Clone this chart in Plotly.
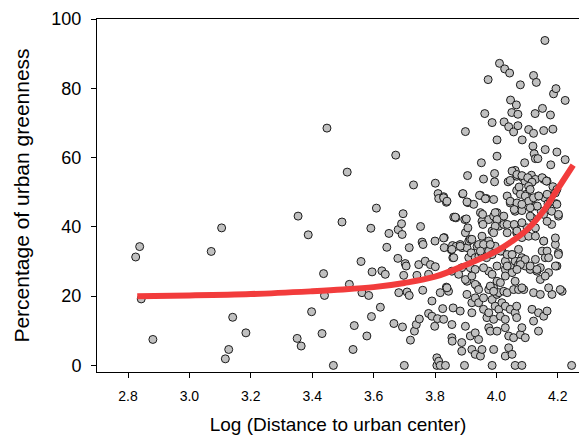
import plotly.graph_objects as go

# Scatter points: (log distance, % urban greenness)
points = [
    (2.825,31.3),(2.838,34.3),(2.843,19.2),(2.881,7.5),
    (3.071,32.9),(3.105,39.7),(3.117,1.9),(3.128,4.6),(3.141,13.9),(3.184,9.4),
    (3.351,7.8),(3.354,43.1),(3.364,5.6),(3.387,37.7),(3.398,15.5),(3.432,9.2),(3.437,26.5),(3.440,20.2),(3.448,68.5),(3.469,0),
    (3.497,41.4),(3.514,55.8),(3.521,23.4),(3.533,4.6),(3.537,11.5),(3.559,30.0),(3.562,21.0),(3.578,8.5),(3.584,20.2),(3.591,39.6),
    (3.593,14.1),(3.595,27.0),(3.609,45.4),(3.622,16.8),(3.627,27.3),(3.638,26.3),(3.643,34.1),(3.650,38.1),(3.666,12.1),(3.672,60.7),
    (3.679,30.9),(3.680,39.2),(3.682,21.0),(3.691,40.9),(3.693,37.8),(3.694,11.1),(3.696,43.8),(3.698,26.0),(3.700,0),(3.703,29.4),
    (3.706,28.7),(3.709,21.2),(3.716,20.2),(3.716,34.0),(3.720,7.3),(3.730,52.1),(3.733,9.9),(3.739,11.8),(3.741,26.0),(3.747,29.1),
    (3.749,13.4),(3.753,40.1),(3.758,35.6),(3.760,21.7),(3.761,34.9),(3.768,30.1),(3.779,26.3),(3.779,15.0),(3.785,29.1),(3.790,14.2),
    (3.790,18.6),(3.799,11.3),(3.800,35.9),(3.801,52.6),(3.801,28.5),(3.806,2.2),(3.806,0),(3.808,13.5),(3.810,49.6),(3.812,48.2),
    (3.812,1.2),(3.817,0),(3.817,21.0),(3.825,16.4),(3.828,48.7),(3.828,13.3),(3.830,36.9),(3.830,34.0),(3.834,0),(3.837,47.1),
    (3.837,22.6),(3.844,21.4),(3.853,33.4),(3.855,27.2),(3.855,11.8),(3.855,8.0),(3.856,7.0),(3.857,34.6),(3.858,31.1),(3.859,16.6),
    (3.861,42.8),(3.868,42.6),(3.869,34.4),
    (3.882,34.9),(3.882,15.7),(3.887,28.2),(3.887,6.6),(3.887,4.1),(3.888,34.0),(3.890,49.5),(3.896,0),(3.897,42.1),(3.899,67.5),
    (3.899,38.3),(3.899,11.3),(3.904,24.3),(3.904,20.5),(3.904,34.0),(3.906,54.8),(3.907,47.0),(3.907,39.7),(3.910,35.9),(3.910,31.1),
    (3.915,28.2),(3.915,36.4),(3.915,8.5),(3.918,32.5),(3.920,18.1),(3.920,15.2),(3.920,4.6),(3.926,46.5),(3.931,27.7),(3.931,19.5),
    (3.931,9.4),(3.931,3.2),(3.931,31.1),(3.937,22.9),(3.937,34.4),(3.942,18.1),(3.942,7.5),(3.942,34.9),(3.943,31.5),(3.948,49.1),
    (3.948,44.1),(3.948,2.7),(3.951,58.5),(3.951,32.5),(3.953,41.6),(3.953,4.6),(3.958,53.8),(3.958,33.5),(3.958,19.5),(3.958,16.2),
    (3.962,72.7),(3.967,48.2),(3.969,13.8),(3.973,82.5),(3.975,42.1),(3.975,35.9),(3.975,33.0),(3.975,27.2),(3.975,21.9),(3.975,15.2),
    (3.975,10.9),(3.980,9.9),(3.986,70.1),(3.986,38.8),(3.986,26.3),(3.986,19.0),(3.986,0),(3.991,47.9),(3.991,43.1),(3.991,22.4),
    (3.991,13.3),(3.991,4.6),(3.994,55.4),(3.994,53.0),(3.996,34.4),(3.996,17.1),
    (4.002,65.1),(4.002,60.4),(4.002,44.1),(4.002,40.7),(4.002,24.3),(4.002,20.5),(4.002,9.9),(4.008,40.2),(4.008,21.0),(4.008,16.2),
    (4.010,87.2),(4.013,14.2),(4.018,33.0),(4.018,18.1),(4.024,40.7),(4.024,21.4),(4.025,70.3),(4.027,85.6),(4.029,30.1),(4.029,27.7),
    (4.029,17.1),(4.029,13.3),(4.029,10.9),(4.029,2.7),(4.035,48.9),(4.035,38.3),(4.035,21.0),(4.038,53.0),(4.040,68.9),(4.040,8.5),
    (4.040,5.1),(4.043,84.4),(4.045,53.4),(4.045,46.9),(4.045,28.7),(4.045,16.2),(4.046,76.6),(4.050,73.0),(4.051,32.0),(4.051,26.8),
    (4.051,3.2),(4.056,67.4),(4.056,21.9),(4.056,8.0),(4.061,56.3),(4.061,44.5),(4.061,40.2),(4.061,30.1),(4.061,15.2),(4.061,0),
    (4.065,75.2),(4.066,54.6),(4.066,50.5),(4.066,38.3),(4.066,17.1),(4.066,13.8),(4.070,72.5),(4.070,69.2),(4.072,46.5),(4.072,29.1),
    (4.072,21.9),(4.074,51.5),(4.078,81.0),(4.078,8.9),(4.083,44.7),(4.083,36.9),(4.083,31.1),(4.083,10.9),(4.083,0),(4.084,65.1),
    (4.086,54.2),(4.089,21.9),(4.092,58.5),(4.093,53.2),(4.094,28.7),(4.094,8.0),(4.097,49.4),(4.100,39.7),(4.105,68.1),(4.105,48.4),
    (4.110,27.7),(4.114,54.9),(4.116,42.6),(4.116,16.2),(4.119,63.3),(4.121,83.7),(4.121,67.0),(4.121,21.0),(4.121,12.8),(4.123,61.1),
    (4.126,72.7),(4.127,59.7),(4.127,53.7),(4.127,46.0),(4.127,39.7),(4.127,30.6),(4.130,81.7),(4.132,27.2),(4.135,59.7),(4.136,48.9),
    (4.137,15.2),(4.137,9.9),(4.143,28.2),(4.143,20.5),(4.146,44.5),(4.149,33.0),(4.150,74.2),(4.154,67.8),(4.154,53.7),(4.154,35.9),
    (4.154,14.2),(4.157,48.4),(4.158,93.8),(4.159,62.3),(4.159,31.1),(4.165,53.2),(4.165,33.0),(4.165,15.7),(4.168,46.7),(4.170,26.8),
    (4.176,72.3),(4.176,48.9),(4.177,57.9),(4.180,44.5),(4.180,40.7),(4.181,20.5),(4.184,68.2),(4.184,51.6),(4.186,78.4),(4.192,34.9),
    (4.194,79.9),(4.195,46.7),(4.197,61.6),(4.197,50.8),(4.197,28.7),(4.202,43.1),(4.202,32.5),(4.214,21.4),(4.224,76.5),(4.224,59.4),
    (4.245,0),
    # additional points in the dense cluster
    (4.051,56.1),(4.067,55.1),(4.083,54.8),(4.102,54.2),(4.116,52.9),(4.105,51.7),(4.110,50.8),(4.149,54.2),(4.163,53.2),
    (3.828,48.4),(3.839,47.4),(3.891,49.6),(3.904,47.2),(3.945,49.1),(3.964,48.1),
    (4.045,47.4),(4.067,46.9),(4.078,49.4),(4.094,48.9),(4.105,47.4),(4.121,48.4),(4.138,48.9),(4.165,49.4),(4.192,49.8),
    (4.176,47.4),(4.133,46.0),(4.110,45.5),(4.083,46.5),(4.058,45.0),(4.197,46.5),
    (3.866,42.8),(3.902,42.3),(3.955,43.6),(3.956,40.7),(3.996,44.1),(4.002,42.1),(4.024,43.1),(3.996,40.2),(3.991,38.3),
    (4.035,40.7),(4.058,40.7),(4.083,41.2),(4.067,38.8),(4.110,43.1),(4.154,43.6),(4.165,41.6),(4.202,43.6),
    (3.828,36.8),(3.855,33.5),(3.861,31.1),(3.882,34.4),(3.920,36.4),(3.953,37.3),(3.958,34.9),(3.980,34.9),(3.948,33.0),
    (3.968,31.1),(3.986,32.0),(4.013,33.0),(4.035,32.0),(4.051,32.0),(4.072,33.5),(4.105,37.3),(4.127,37.3),(4.154,35.9),
    (4.192,36.8),(4.202,32.0),(4.078,30.1),(4.094,30.6),(4.170,31.1),
    (3.839,22.4),(3.877,26.3),(3.899,24.8),(3.920,25.8),(3.931,23.4),(3.942,21.9),(3.980,22.9),(3.991,21.4),(4.013,23.9),
    (4.029,25.8),(4.061,24.3),(4.083,22.4),(4.078,29.1),(4.067,27.7),(4.110,28.7),(4.132,27.7),(4.143,24.8),(4.159,25.8),
    (4.170,22.4),(4.192,28.7),(4.208,21.9),(4.035,28.7),(4.002,28.7),(3.958,28.2),
]
x_vals = [p[0] for p in points]
y_vals = [p[1] for p in points]

# Fitted curve
curve_x = [2.83, 3.0, 3.2, 3.4, 3.5, 3.6, 3.7, 3.8, 3.9, 4.0, 4.05, 4.1, 4.15, 4.2, 4.25]
curve_y = [20.0, 20.2, 20.6, 21.4, 21.9, 22.6, 23.8, 25.6, 29.0, 33.0, 35.8, 39.2, 44.2, 51.0, 57.8]

x_ticks = [2.8, 3.0, 3.2, 3.4, 3.6, 3.8, 4.0, 4.2]
y_ticks = [0, 20, 40, 60, 80, 100]

fig = go.Figure()
fig.add_trace(go.Scatter(
    x=x_vals, y=y_vals, mode="markers",
    marker=dict(size=8, color="#c0c0c0", line=dict(color="#1a1a1a", width=1)),
    showlegend=False, cliponaxis=False,
))
fig.add_trace(go.Scatter(
    x=curve_x, y=curve_y, mode="lines",
    line=dict(color="#f23c3c", width=6, shape="spline"),
    showlegend=False,
))

font_family = "Arial, Liberation Sans, sans-serif"
fig.update_layout(
    width=579, height=435,
    margin=dict(l=97, r=0, t=19, b=63),
    plot_bgcolor="white", paper_bgcolor="white",
    font=dict(family=font_family, color="black"),
    xaxis=dict(
        range=[2.699, 4.269], tickvals=x_ticks, ticktext=[f"{v:.1f}" for v in x_ticks],
        showgrid=False, zeroline=False, showline=True, linecolor="black", linewidth=1,
        mirror=True, ticks="outside", ticklen=5, tickcolor="black",
        tickfont=dict(size=14), ticklabelstandoff=6,
        title=dict(text="Log (Distance to urban center)", font=dict(size=19), standoff=18),
    ),
    yaxis=dict(
        range=[-1.9, 100], tickvals=y_ticks,
        showgrid=False, zeroline=False, showline=True, linecolor="black", linewidth=1,
        ticks="outside", ticklen=5, tickcolor="black",
        tickfont=dict(size=18), ticklabelstandoff=6,
        title=dict(text="Percentage of urban greenness", font=dict(size=21), standoff=16),
    ),
)

fig.write_html("out.html")
